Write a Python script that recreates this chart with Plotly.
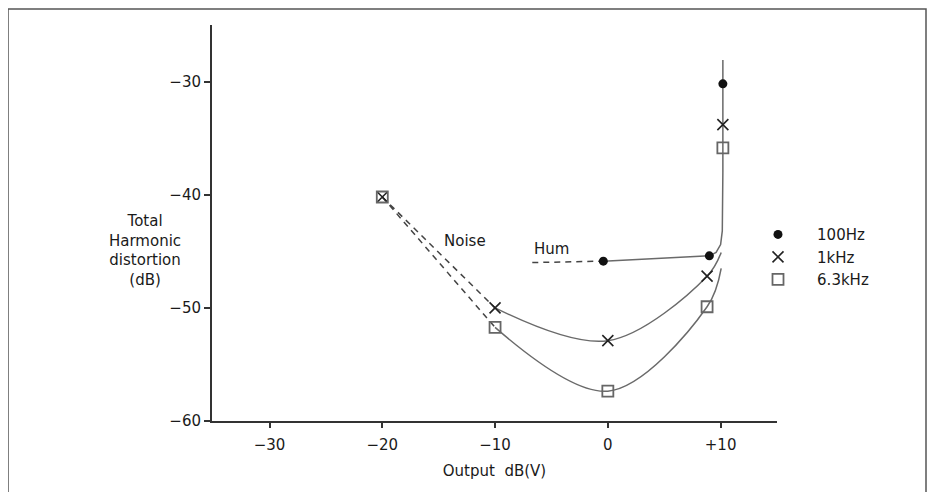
import plotly.graph_objects as go

# ---- data ----
# measured points (Output dB(V) vs THD dB)
hz100_x = [-0.4, 9.0, 10.2]
hz100_y = [-45.87, -45.4, -30.2]

khz1_x = [-20, -10, 0, 8.8, 10.2]
khz1_y = [-40.2, -50.0, -52.9, -47.2, -33.8]

khz63_x = [-20, -10, 0, 8.8, 10.2]
khz63_y = [-40.2, -51.73, -57.36, -49.9, -35.86]

# hand-drawn fitted curves (solid)
c100_x = [-0.4, 9.0, 9.6, 10.0, 10.15, 10.2, 10.2]
c100_y = [-45.87, -45.4, -45.1, -44.4, -43.2, -38.0, -28.1]
c1k_x = [-10, 0, 8.8, 10.05]
c1k_y = [-50.0, -52.9, -47.2, -45.1]
c63_x = [-10, 0, 8.8, 10.05]
c63_y = [-51.73, -57.36, -49.9, -46.5]

# dashed extrapolations
noise_x = [-20, -10]
noise_1k_y = [-40.2, -50.0]
noise_63_y = [-40.2, -51.73]
hum_x = [-6.7, -0.4]
hum_y = [-46.0, -45.87]

# axis ticks
x_ticks = [-30, -20, -10, 0, 10]
x_tick_text = ["\u221230", "\u221220", "\u221210", "0", "+10"]
y_ticks = [-60, -50, -40, -30]
y_tick_text = ["\u221260", "\u221250", "\u221240", "\u221230"]

FONT = "DejaVu Sans"
TXT = "#1a1a1a"
CURVE = "#6a6a6a"
DASH = "#444444"

fig = go.Figure()

# curves
fig.add_trace(go.Scatter(x=c100_x, y=c100_y, mode="lines", line=dict(color=CURVE, width=1.5),
                         showlegend=False, hoverinfo="skip"))
fig.add_trace(go.Scatter(x=c1k_x, y=c1k_y, mode="lines", line=dict(color=CURVE, width=1.5, shape="spline", smoothing=1.0),
                         showlegend=False, hoverinfo="skip"))
fig.add_trace(go.Scatter(x=c63_x, y=c63_y, mode="lines", line=dict(color=CURVE, width=1.5, shape="spline", smoothing=1.0),
                         showlegend=False, hoverinfo="skip"))
# dashed
for yy in (noise_1k_y, noise_63_y):
    fig.add_trace(go.Scatter(x=noise_x, y=yy, mode="lines", line=dict(color=DASH, width=1.5, dash="6px,5px"),
                             showlegend=False, hoverinfo="skip"))
fig.add_trace(go.Scatter(x=hum_x, y=hum_y, mode="lines", line=dict(color=DASH, width=1.5, dash="6px,5px"),
                         showlegend=False, hoverinfo="skip"))

pad = "\u00a0\u00a0\u00a0\u00a0"
# markers
fig.add_trace(go.Scatter(x=hz100_x, y=hz100_y, mode="markers", name=pad + "100Hz", legendgroup="a",
                         marker=dict(symbol="circle", size=9, color="#111111")))
fig.add_trace(go.Scatter(x=khz1_x, y=khz1_y, mode="markers", name=pad + "1kHz", legendgroup="b",
                         marker=dict(symbol="x-thin-open", size=11, color="#222222",
                                     line=dict(width=1.6, color="#222222"))))
fig.add_trace(go.Scatter(x=khz63_x, y=khz63_y, mode="markers", name=pad + "6.3kHz", legendgroup="c",
                         marker=dict(symbol="square-open", size=11, color="#666666",
                                     line=dict(width=1.8, color="#666666"))))

W, H = 935, 492
OFF = 8  # page body margin
PL, PT = 212, 25          # plot area origin in screenshot pixels
pw, ph = 565, 395.7
L = PL - OFF
T = PT - OFF
R = W - L - pw
B = H - T - ph

def px_x(px):
    return (px - PL) / pw

def px_y(py):
    return (PT + ph - py) / ph

fig.update_layout(
    width=W, height=H,
    margin=dict(l=L, r=R, t=T, b=B),
    paper_bgcolor="white", plot_bgcolor="white",
    font=dict(family=FONT, size=15, color=TXT),
    legend=dict(x=px_x(758), y=px_y(218), xanchor="left", yanchor="top",
                bgcolor="rgba(0,0,0,0)", font=dict(size=15, family=FONT, color=TXT),
                tracegroupgap=0),
    xaxis=dict(range=[-35.1, 15.0], tickvals=x_ticks, ticktext=x_tick_text,
               showgrid=False, zeroline=False, showline=True, linecolor="#333333", linewidth=2,
               ticks="outside", ticklen=5, tickwidth=1.5, tickcolor="#333333",
               ticklabelstandoff=4, tickfont=dict(size=15, family=FONT, color=TXT),
               title=dict(text="Output\u00a0\u00a0dB(V)", standoff=12, font=dict(size=15, family=FONT, color=TXT))),
    yaxis=dict(range=[-60, -25], tickvals=y_ticks, ticktext=y_tick_text,
               showgrid=False, zeroline=False, showline=True, linecolor="#333333", linewidth=2,
               ticks="outside", ticklen=6, tickwidth=1.5, tickcolor="#333333",
               tickfont=dict(size=15, family=FONT, color=TXT)),
    annotations=[
        dict(text="Total<br>Harmonic<br>distortion<br>(dB)", xref="paper", yref="paper",
             x=px_x(107), y=px_y(250), showarrow=False, align="center",
             font=dict(size=15, family=FONT, color=TXT)),
        dict(text="Noise", xref="x", yref="y", x=-12.7, y=-44.05, showarrow=False,
             font=dict(size=15, family=FONT, color=TXT)),
        dict(text="Hum", xref="x", yref="y", x=-5.0, y=-44.8, showarrow=False,
             font=dict(size=15, family=FONT, color=TXT)),
    ],
    shapes=[
        dict(type="rect", xref="paper", yref="paper",
             x0=px_x(8), x1=px_x(926), y0=px_y(520), y1=px_y(9),
             line=dict(color="#555555", width=1.5), fillcolor="rgba(0,0,0,0)", layer="below"),
    ],
)

fig.write_html("out.html")
